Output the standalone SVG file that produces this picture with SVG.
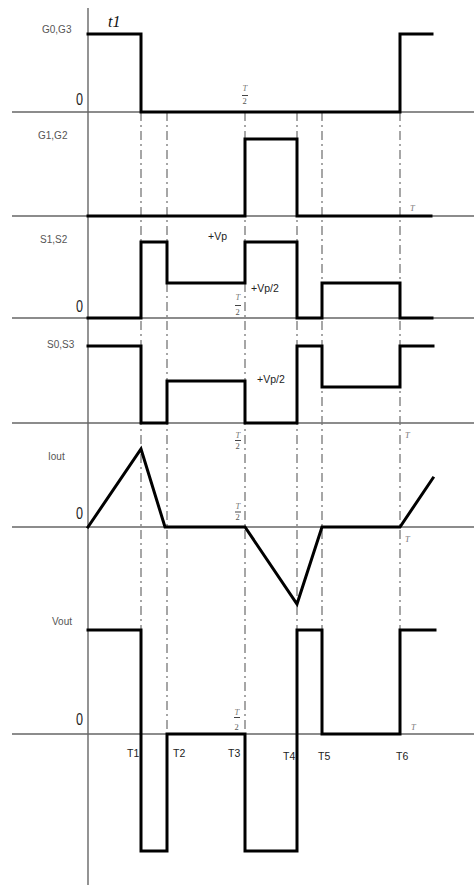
<svg xmlns="http://www.w3.org/2000/svg" width="474" height="885" viewBox="0 0 474 885">
<style>
.ax{stroke:#666;stroke-width:1.4;fill:none}
.gd{stroke:#777;stroke-width:1.3;fill:none;stroke-dasharray:9 4 2 4}
.w{stroke:#000;stroke-width:3;fill:none;stroke-linejoin:miter;stroke-linecap:square}
.lb{font-family:"Liberation Sans",Arial,sans-serif;font-size:10px;fill:#555}
.dk{font-family:"Liberation Sans",Arial,sans-serif;font-size:10.5px;fill:#222}
.z{font-family:"Liberation Sans",Arial,sans-serif;font-size:16px;fill:#222}
.ft{font-family:"Liberation Serif","Times New Roman",serif;font-style:italic;font-size:8.5px;fill:#777}
.fn{font-family:"Liberation Serif","Times New Roman",serif;font-size:8.5px;fill:#555}
.fb{stroke:#444;stroke-width:1}
</style>
<rect width="474" height="885" fill="#fff"/>
<g id="axes">
<line class="ax" x1="88" y1="8" x2="88" y2="885"/>
<line class="ax" x1="12" y1="112" x2="474" y2="112"/>
<line class="ax" x1="12" y1="216" x2="474" y2="216"/>
<line class="ax" x1="12" y1="318" x2="474" y2="318"/>
<line class="ax" x1="12" y1="423" x2="474" y2="423"/>
<line class="ax" x1="12" y1="527" x2="474" y2="527"/>
<line class="ax" x1="12" y1="734" x2="474" y2="734"/>
</g>
<g id="connectors">
<line class="gd" x1="141" y1="112" x2="141" y2="630"/>
<line class="gd" x1="167" y1="112" x2="167" y2="734"/>
<line class="gd" x1="245" y1="112" x2="245" y2="734"/>
<line class="gd" x1="297" y1="112" x2="297" y2="630"/>
<line class="gd" x1="322" y1="112" x2="322" y2="734"/>
<line class="gd" x1="400" y1="112" x2="400" y2="630"/>
</g>
<g id="G0G3">
<polyline class="w" points="88,34 141,34 141,112 400,112 400,34 432,34"/>
<text class="lb" x="42" y="33">G0,G3</text>
<text x="108" y="27" font-family="Liberation Serif,serif" font-style="italic" font-size="16" fill="#111">t1</text>
<text class="z" x="76" y="105" textLength="7" lengthAdjust="spacingAndGlyphs">0</text>
</g>
<g id="G1G2">
<polyline class="w" points="88,216 245,216 245,139 297,139 297,216 431,216"/>
<text class="lb" x="38" y="139">G1,G2</text>
<text class="ft" x="410" y="211">T</text>
</g>
<g id="S1S2">
<polyline class="w" points="88,318 141,318 141,242 167,242 167,283 245,283 245,242 297,242 297,318 322,318 322,283 400,283 400,318 432,318"/>
<text class="lb" x="40" y="243">S1,S2</text>
<text class="dk" x="208" y="240">+Vp</text>
<text class="dk" x="251" y="292">+Vp/2</text>
<text class="z" x="76" y="312" textLength="7" lengthAdjust="spacingAndGlyphs">0</text>
</g>
<g id="S0S3">
<polyline class="w" points="88,346 141,346 141,423 167,423 167,381 245,381 245,423 297,423 297,346 322,346 322,387 400,387 400,346 433,346"/>
<text class="lb" x="47" y="348">S0,S3</text>
<text class="dk" x="257" y="383">+Vp/2</text>
</g>
<g id="Iout">
<polyline class="w" points="88,527 141,449 165,527 245,527 297,604 322,527 400,527 433,478"/>
<text class="lb" x="48" y="460">Iout</text>
<text class="z" x="76" y="519" textLength="7" lengthAdjust="spacingAndGlyphs">0</text>
<text class="ft" x="405" y="438">T</text>
<text class="ft" x="405" y="542">T</text>
</g>
<g id="Vout">
<polyline class="w" points="88,630 141,630 141,851 167,851 167,734 245,734 245,851 297,851 297,630 322,630 322,734 400,734 400,630 435,630"/>
<text class="lb" x="52" y="625">Vout</text>
<text class="z" x="76" y="725" textLength="7" lengthAdjust="spacingAndGlyphs">0</text>
<text class="ft" x="411" y="730">T</text>
<text class="dk" x="127" y="757">T1</text>
<text class="dk" x="173" y="757">T2</text>
<text class="dk" x="228" y="757">T3</text>
<text class="dk" x="283" y="760">T4</text>
<text class="dk" x="318" y="760">T5</text>
<text class="dk" x="396" y="760">T6</text>
</g>
<g id="fractions">
<text class="ft" x="242.5" y="91">T</text>
<line class="fb" x1="242" y1="95.5" x2="248" y2="95.5"/>
<text class="fn" x="242.5" y="104">2</text>
<text class="ft" x="235.5" y="300">T</text>
<line class="fb" x1="235" y1="305.5" x2="241" y2="305.5"/>
<text class="fn" x="235.5" y="315">2</text>
<text class="ft" x="235.5" y="438">T</text>
<line class="fb" x1="235" y1="440.5" x2="241" y2="440.5"/>
<text class="fn" x="235.5" y="449">2</text>
<text class="ft" x="235.5" y="509">T</text>
<line class="fb" x1="235" y1="512" x2="241" y2="512"/>
<text class="fn" x="235.5" y="520">2</text>
<text class="ft" x="234.5" y="715">T</text>
<line class="fb" x1="234" y1="717.5" x2="240" y2="717.5"/>
<text class="fn" x="234.5" y="730">2</text>
</g>
</svg>
